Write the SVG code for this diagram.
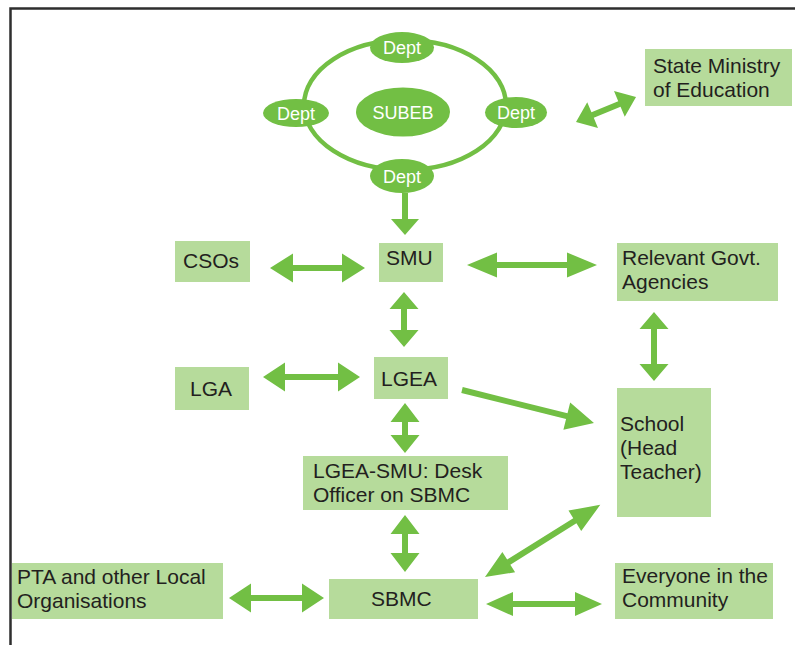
<svg xmlns="http://www.w3.org/2000/svg" width="795" height="645" viewBox="0 0 795 645">
  <style>
    .box { fill: #b6db9b; }
    .lbl { font-family: "Liberation Sans", Arial, sans-serif; font-size: 21px; fill: #231f20; }
    .oval { fill: #72bf44; }
    .olbl { font-family: "Liberation Sans", Arial, sans-serif; font-size: 18px; fill: #ffffff; text-anchor: middle; }
    .arr { fill: #72bf44; }
  </style>

  <rect x="0" y="0" width="795" height="645" fill="#ffffff"/>
  <!-- frame -->
  <path d="M10.5,645 V8.5 H795" fill="none" stroke="#2e2e2e" stroke-width="2.5"/>

  <!-- SUBEB cluster -->
  <g id="subeb-ring">
    <ellipse cx="405" cy="105" rx="101" ry="65" fill="none" stroke="#72bf44" stroke-width="4.5"/>
  </g>
  <g id="subeb">
    <ellipse class="oval" cx="403" cy="112" rx="47" ry="24.5"/>
    <text class="olbl" x="403" y="118.5">SUBEB</text>
  </g>
  <g id="dept-top">
    <ellipse class="oval" cx="402" cy="47.5" rx="32" ry="15.5"/>
    <text class="olbl" x="402" y="54">Dept</text>
  </g>
  <g id="dept-left">
    <ellipse class="oval" cx="296" cy="113" rx="33" ry="14"/>
    <text class="olbl" x="296" y="119.5">Dept</text>
  </g>
  <g id="dept-right">
    <ellipse class="oval" cx="516" cy="112.5" rx="31" ry="15.5"/>
    <text class="olbl" x="516" y="119">Dept</text>
  </g>
  <g id="dept-bottom">
    <ellipse class="oval" cx="402" cy="176" rx="32" ry="17"/>
    <text class="olbl" x="402" y="182.5">Dept</text>
  </g>

  <!-- nodes -->
  <g id="state-ministry">
    <rect class="box" x="645" y="49" width="147" height="57"/>
    <text class="lbl" x="653" y="73">State Ministry</text>
    <text class="lbl" x="653" y="97">of Education</text>
  </g>
  <g id="csos">
    <rect class="box" x="175" y="241" width="75" height="41"/>
    <text class="lbl" x="183" y="268">CSOs</text>
  </g>
  <g id="smu">
    <rect class="box" x="379" y="243" width="64" height="39"/>
    <text class="lbl" x="386" y="265">SMU</text>
  </g>
  <g id="govt-agencies">
    <rect class="box" x="617" y="243" width="161" height="58"/>
    <text class="lbl" x="622" y="265">Relevant Govt.</text>
    <text class="lbl" x="622" y="289">Agencies</text>
  </g>
  <g id="lga">
    <rect class="box" x="175" y="367" width="74" height="43"/>
    <text class="lbl" x="190" y="396">LGA</text>
  </g>
  <g id="lgea">
    <rect class="box" x="374" y="357" width="74" height="42"/>
    <text class="lbl" x="381" y="386">LGEA</text>
  </g>
  <g id="school">
    <rect class="box" x="617" y="388" width="94" height="129"/>
    <text class="lbl" x="620" y="431">School</text>
    <text class="lbl" x="620" y="455">(Head</text>
    <text class="lbl" x="620" y="479">Teacher)</text>
  </g>
  <g id="desk-officer">
    <rect class="box" x="303" y="456" width="205" height="54"/>
    <text class="lbl" x="313" y="478">LGEA-SMU: Desk</text>
    <text class="lbl" x="313" y="502">Officer on SBMC</text>
  </g>
  <g id="pta">
    <rect class="box" x="12" y="563" width="211" height="56"/>
    <text class="lbl" x="17" y="584">PTA and other Local</text>
    <text class="lbl" x="17" y="608">Organisations</text>
  </g>
  <g id="sbmc">
    <rect class="box" x="329" y="579" width="149" height="40"/>
    <text class="lbl" x="371" y="606">SBMC</text>
  </g>
  <g id="community">
    <rect class="box" x="615" y="563" width="158" height="56"/>
    <text class="lbl" x="622" y="583">Everyone in the</text>
    <text class="lbl" x="622" y="607">Community</text>
  </g>

  <!-- connectors -->
  <g id="connectors" class="arr">
    <!-- SUBEB ring -> SMU -->
    <polygon points="402,193 408,193 408,219 419,219 405,235 391,219 402,219"/>
    <!-- State Ministry <-> SUBEB -->
    <polygon transform="translate(576,122) rotate(-22.6)" points="0,0 18,-14 18,-3 47,-3 47,-14 65,0 47,14 47,3 18,3 18,14"/>
    <!-- CSOs <-> SMU -->
    <polygon points="270,268 293,253.5 293,265 342,265 342,253.5 365,268 342,282.5 342,271 293,271 293,282.5"/>
    <!-- SMU <-> Relevant Govt. Agencies -->
    <polygon points="467,265 497,252.5 497,262 567,262 567,252.5 597,265 567,277.5 567,268 497,268 497,277.5"/>
    <!-- SMU <-> LGEA -->
    <polygon points="404,292 418.5,309 407,309 407,330 418.5,330 404,347 389.5,330 401,330 401,309 389.5,309"/>
    <!-- Relevant Govt. Agencies <-> School -->
    <polygon points="654,312 668.5,329 657,329 657,364 668.5,364 654,381 639.5,364 651,364 651,329 639.5,329"/>
    <!-- LGA <-> LGEA -->
    <polygon points="263,377 285,362.5 285,374 338,374 338,362.5 360,377 338,391.5 338,380 285,380 285,391.5"/>
    <!-- LGEA -> School -->
    <polygon transform="translate(462,390) rotate(14)" points="0,-3 108,-3 108,-14 136,0 108,14 108,3 0,3"/>
    <!-- LGEA <-> Desk Officer -->
    <polygon points="405,403 419.5,422 408,422 408,435 419.5,435 405,453 390.5,435 402,435 402,422 390.5,422"/>
    <!-- Desk Officer <-> SBMC -->
    <polygon points="405,515 419.5,534 408,534 408,553 419.5,553 405,572 390.5,553 402,553 402,534 390.5,534"/>
    <!-- PTA <-> SBMC -->
    <polygon points="229,598 251,583.5 251,595 302,595 302,583.5 324,598 302,612.5 302,601 251,601 251,612.5"/>
    <!-- SBMC <-> School -->
    <polygon transform="translate(485,577) rotate(-32.05)" points="0,0 28,-12 28,-3 106,-3 106,-12 136,0 106,12 106,3 28,3 28,12"/>
    <!-- SBMC <-> Community -->
    <polygon points="486,604 513,592 513,601 575,601 575,592 602,604 575,616 575,607 513,607 513,616"/>
  </g>
</svg>
